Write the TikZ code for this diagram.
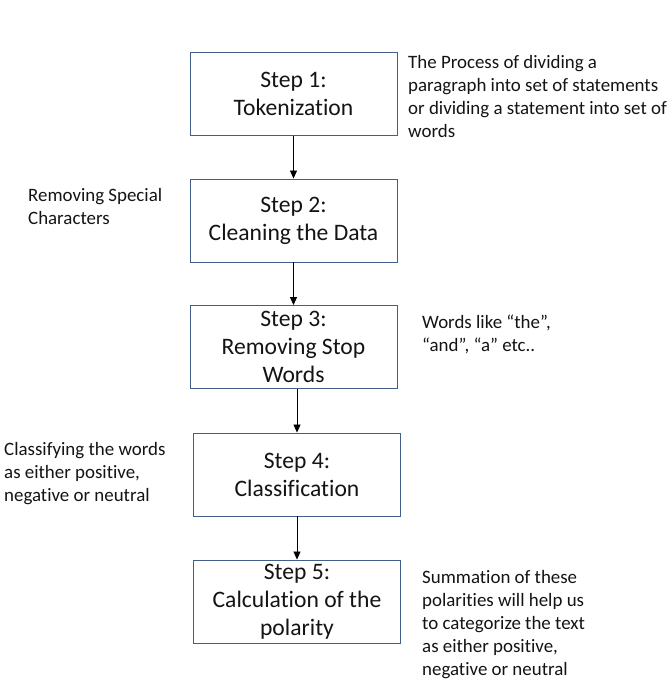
\documentclass[tikz,border=0pt]{standalone}
\usepackage{fontspec}
\setmainfont[Ligatures={NoCommon,NoContextual,NoRare},Contextuals=NoAlternate]{Carlito}
\usetikzlibrary{arrows.meta}
\definecolor{boxline}{RGB}{68,94,140}
\definecolor{txt}{RGB}{20,20,20}
\tikzset{
  stepbox/.style={draw=boxline, line width=0.9pt, minimum width=207pt, minimum height=83pt, inner sep=0pt, align=center, text=txt, font=\fontsize{23.6}{28}\selectfont},
  note/.style={anchor=north west, align=left, inner sep=0pt, text=txt, font=\fontsize{18.9}{23}\selectfont},
  flow/.style={draw=black, line width=0.8pt, -{Triangle[length=8pt,width=7pt]}}
}
\begin{document}
\begin{tikzpicture}[x=1pt,y=-1pt]
\useasboundingbox[fill=white] (0,0) rectangle (671,687);
\node[stepbox] (s1) at (293.5,94) {Step 1:\\Tokenization};
\node[stepbox] (s2) at (293.5,220.5) {Step 2:\\Cleaning the Data};
\node[stepbox] (s3) at (293.5,347) {Step 3:\\Removing Stop\\Words};
\node[stepbox] (s4) at (297,474.5) {Step 4:\\Classification};
\node[stepbox] (s5) at (297,601.5) {Step 5:\\Calculation of the\\polarity};
\draw[flow] (s1.south) -- (s2.north);
\draw[flow] (s2.south) -- (s3.north);
\draw[flow] (s3.south -| s4) -- (s4.north);
\draw[flow] (s4.south) -- (s5.north);
\node[note] (n1) at (408,55) {The Process of dividing a\\paragraph into set of statements\\or dividing a statement into set of\\words};
\node[note] (n2) at (28,188) {Removing Special\\Characters};
\node[note] (n3) at (422,315) {Words like “the”,\\“and”, “a” etc..};
\node[note] (n4) at (4,442) {Classifying the words\\as either positive,\\negative or neutral};
\node[note] (n5) at (422,570) {Summation of these\\polarities will help us\\to categorize the text\\as either positive,\\negative or neutral};
\end{tikzpicture}
\end{document}
